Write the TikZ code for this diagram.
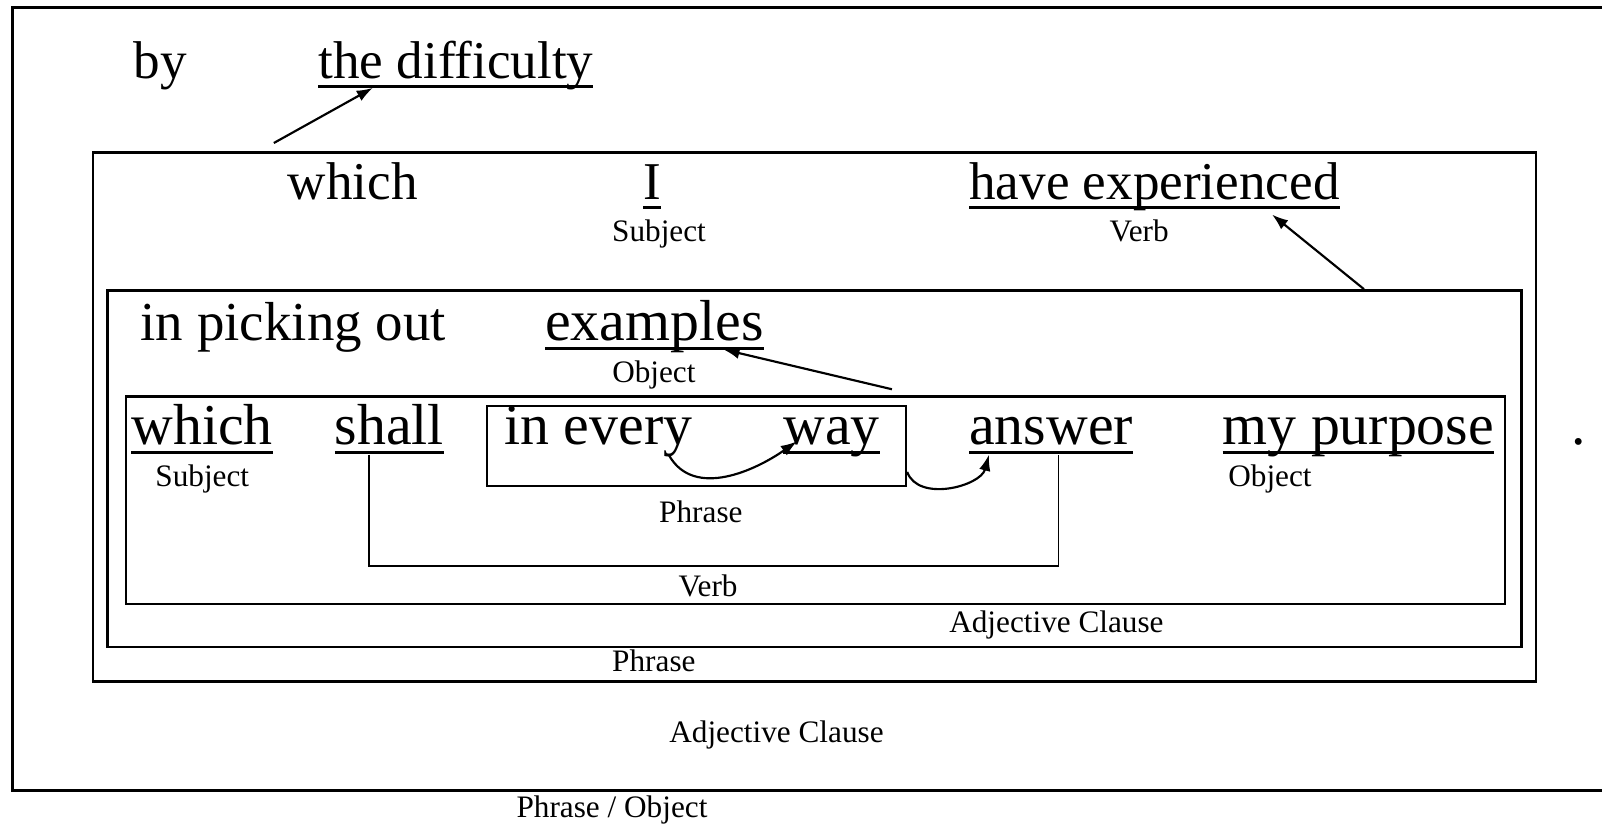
\documentclass[tikz,border=0pt]{standalone}
\usepackage{fontspec}
\setmainfont{Liberation Serif}
\usetikzlibrary{arrows.meta}

\newcommand\uword[1]{\setbox0\hbox{#1}\rlap{\rule[-2.65pt]{\wd0}{0.9pt}}\box0}

\begin{document}
\begin{tikzpicture}[
    word/.style={inner sep=0pt, anchor=base west, font=\fontsize{14.8}{17}\selectfont},
    bigword/.style={word, font=\fontsize{16.1}{19}\selectfont},
    tag/.style={inner sep=0pt, anchor=base, font=\fontsize{8.7}{10}\selectfont},
    frame/.style={draw, line width=0.7pt, inner sep=0pt, anchor=north west},
    arr/.style={-{Latex[length=4.5pt,width=3.2pt]}, line width=0.6pt},
    bracket/.style={line width=0.45pt}]
  \useasboundingbox (0,0) rectangle (15.68,-8.09);

  % boxes, outermost first
  \node[frame, line width=0.85pt, minimum width=15.9cm, minimum height=7.66cm] (outer)  at (0.11,-0.06) {};
  \node[frame, minimum width=14.12cm, minimum height=5.18cm] (clause) at (0.90,-1.48) {};
  \node[frame, minimum width=13.84cm, minimum height=3.49cm] (phrase) at (1.04,-2.83) {};
  \node[frame, minimum width=13.50cm, minimum height=2.03cm] (inner)  at (1.22,-3.87) {};
  \node[frame, line width=0.55pt, minimum width=4.10cm, minimum height=0.79cm] (every) at (4.76,-3.96) {};

  % words
  \node[word] (by)       at (1.30,-0.77) {by};
  \node[word] (diff)     at (3.11,-0.77) {\uword{the difficulty}};
  \node[word] (which1)   at (2.81,-1.95) {which};
  \node[word] (I)        at (6.29,-1.95) {\uword{I}};
  \node[word] (haveexp)  at (9.48,-1.95) {\uword{have experienced}};
  \node[word, font=\fontsize{15.3}{18}\selectfont] (picking) at (1.37,-3.33) {in picking out};
  \node[bigword] (examples) at (5.33,-3.33) {\uword{examples}};
  \node[bigword] (which2)   at (1.28,-4.35) {\uword{which}};
  \node[bigword] (shall)    at (3.27,-4.35) {\uword{shall}};
  \node[bigword] (inevery)  at (4.93,-4.35) {in every};
  \node[bigword] (way)      at (7.66,-4.35) {\uword{way}};
  \node[bigword] (answer)   at (9.48,-4.35) {\uword{answer}};
  \node[bigword] (purpose)  at (11.96,-4.35) {\uword{my purpose}};
  \node[bigword] (stop)     at (15.37,-4.35) {.};

  % labels
  \node[tag] (subj1)   at (6.45,-2.36)  {Subject};
  \node[tag] (verb1)   at (11.15,-2.36) {Verb};
  \node[tag] (obj1)    at (6.40,-3.74)  {Object};
  \node[tag] (subj2)   at (1.98,-4.76)  {Subject};
  \node[tag] (obj2)    at (12.43,-4.76) {Object};
  \node[tag] (phrlab1) at (6.86,-5.11)  {Phrase};
  \node[tag] (verblab) at (6.93,-5.84)  {Verb};
  \node[tag] (adjlab1) at (10.34,-6.19) {Adjective Clause};
  \node[tag] (phrlab2) at (6.40,-6.57)  {Phrase};
  \node[tag] (adjlab2) at (7.60,-7.27)  {Adjective Clause};
  \node[tag] (outlab)  at (5.99,-8.00)  {Phrase / Object};

  % arrow ends
  \coordinate (c1) at ([shift={(1.78,0.08)}]clause.north west);
  \coordinate (d1) at ([shift={(0.54,-0.09)}]diff.base west);
  \coordinate (c2) at ([shift={(12.31,0)}]phrase.north west);
  \coordinate (d2) at ([shift={(2.97,-0.15)}]haveexp.base west);
  \coordinate (c3) at ([shift={(7.51,0.06)}]inner.north west);
  \coordinate (d3) at ([shift={(1.75,-0.09)}]examples.base west);
  \coordinate (c4) at ([shift={(1.62,-0.11)}]inevery.base west);
  \coordinate (d4) at ([shift={(0.14,0.03)}]way.base west);
  \coordinate (c5) at ([shift={(0,0.15)}]every.south east);
  \coordinate (d5) at ([shift={(0.20,-0.10)}]answer.base west);
  \coordinate (v1) at ([shift={(0.34,-0.10)}]shall.base west);
  \coordinate (v2) at ([shift={(0.88,-0.10)}]answer.base west);

  \draw[arr] (c1) -- (d1);
  \draw[arr] (c2) -- (d2);
  \draw[arr] (c3) -- (d3);
  \draw[arr] (c4) to[out=-60, in=-145] (d4);
  \draw[arr] (c5) to[out=-70, in=-105] (d5);
  \draw[bracket] (v1) -- ++(0,-1.09) -| (v2);
\end{tikzpicture}
\end{document}
